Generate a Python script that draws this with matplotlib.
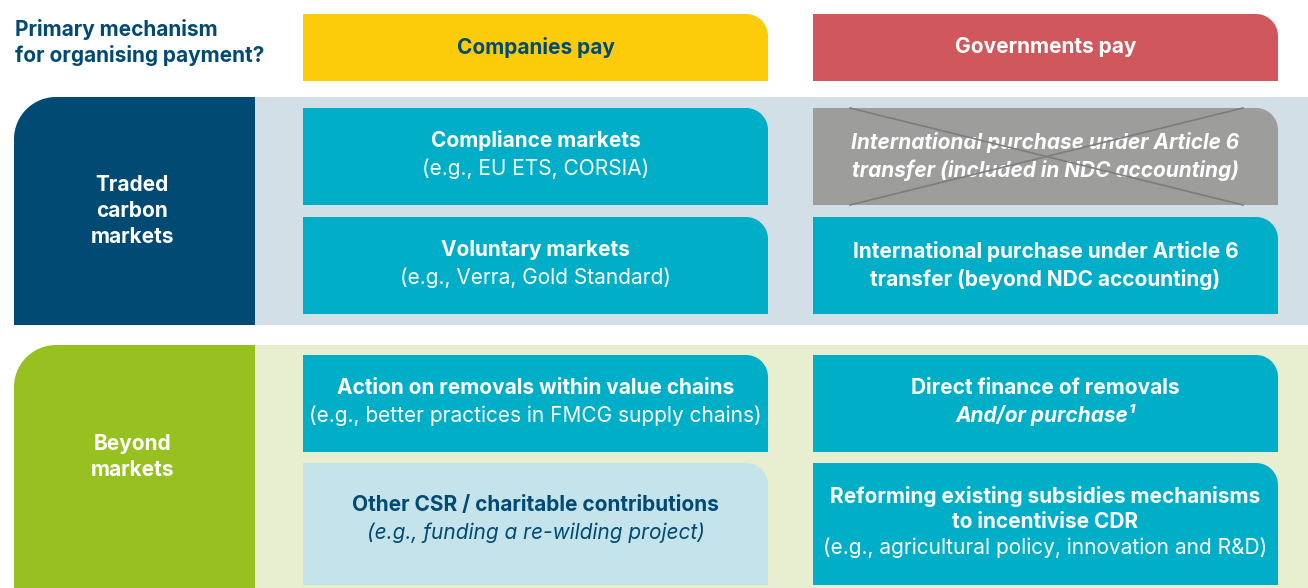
import numpy as np
import matplotlib
matplotlib.use("Agg")
import matplotlib.pyplot as plt
from matplotlib.patches import Polygon, Rectangle

plt.rcParams['font.family'] = ['Inter', 'DejaVu Sans']

# Colours
navy = '#004a73'
teal = '#00aec7'
pale_blue = '#c5e3eb'
grey = '#9d9d9c'
yellow = '#fccc0a'
red = '#d0575c'
green = '#97c121'
band_blue = '#d3dfe7'
band_green = '#e8efd1'

# Texts
question = ["Primary mechanism", "for organising payment?"]
headers = ["Companies pay", "Governments pay"]
rows = [["Traded", "carbon", "markets"], ["Beyond", "markets"]]
box_titles = [
    [["Compliance markets"], ["International purchase under Article 6", "transfer (included in NDC accounting)"]],
    [["Voluntary markets"], ["International purchase under Article 6", "transfer (beyond NDC accounting)"]],
    [["Action on removals within value chains"], ["Direct finance of removals"]],
    [["Other CSR / charitable contributions"], ["Reforming existing subsidies mechanisms", "to incentivise CDR"]],
]
box_notes = [
    ["(e.g., EU ETS, CORSIA)", None],
    ["(e.g., Verra, Gold Standard)", None],
    ["(e.g., better practices in FMCG supply chains)", "And/or purchase\u00b9"],
    ["(e.g., funding a re-wilding project)", "(e.g., agricultural policy, innovation and R&D)"],
]

FS = 15
W, H = 1308, 588
fig = plt.figure(figsize=(W / 100, H / 100), dpi=100)
ax = fig.add_axes([0, 0, 1, 1])
ax.set_xlim(0, W)
ax.set_ylim(H, 0)
ax.axis('off')


def rounded(x0, y0, x1, y1, r, corner, color, z=2):
    # rectangle with a single rounded corner ('tr' or 'tl'), y axis points down
    t = np.linspace(0, np.pi / 2, 20)
    if corner == 'tr':
        cx, cy = x1 - r, y0 + r
        arc = np.column_stack([cx + r * np.sin(t), cy - r * np.cos(t)])
        pts = np.vstack([[x0, y1], [x0, y0], arc, [x1, y1]])
    else:
        cx, cy = x0 + r, y0 + r
        arc = np.column_stack([cx - r * np.cos(t), cy - r * np.sin(t)])
        pts = np.vstack([[x1, y1], [x0, y1], arc, [x1, y0]])
    ax.add_patch(Polygon(pts, closed=True, facecolor=color, edgecolor='none', zorder=z))


def stack(x, yc, lines, step, ha='center', **kw):
    # place each line at a fixed pixel step around yc
    n = len(lines)
    for k, (s, style) in enumerate(lines):
        y = yc + (k - (n - 1) / 2) * step
        ax.text(x, y, s, ha=ha, va='center_baseline', fontsize=FS, zorder=3, **style, **kw)


bold = dict(fontweight='bold')
plain = dict(fontweight='normal')

# question
stack(15, 41, [(s, bold) for s in question], 26, ha='left', color=navy)

# column headers
cols = [(303, 768), (813, 1278)]
for (x0, x1), label, col, tc in zip(cols, headers, [yellow, red], [navy, 'white']):
    rounded(x0, 14, x1, 81, 22, 'tr', col)
    stack((x0 + x1) / 2, 45, [(label, bold)], 26, color=tc)

# row bands
bands = [(97, 325, band_blue, navy, 209), (345, 588, band_green, green, 455)]
for (y0, y1, bg, col, yc), label in zip(bands, rows):
    ax.add_patch(Rectangle((255, y0), W - 255, y1 - y0, facecolor=bg, edgecolor='none', zorder=1))
    rounded(14, y0, 255, y1, 42, 'tl', col)
    stack(132, yc, [(s, bold) for s in label], 26, color='white')

# boxes
box_rows = [(108, 205), (217, 314), (355, 452), (463, 585)]
for i, (y0, y1) in enumerate(box_rows):
    for j, (x0, x1) in enumerate(cols):
        title = box_titles[i][j]
        note = box_notes[i][j]
        face, tc = teal, 'white'
        crossed = (i == 0 and j == 1)
        if crossed:
            face = grey
        if i == 3 and j == 0:
            face, tc = pale_blue, navy
        rounded(x0, y0, x1, y1, 22, 'tr', face)
        cx = (x0 + x1) / 2
        if crossed or (i == 1 and j == 1):
            style = dict(fontweight='bold', style='italic') if crossed else bold
            stack(cx, (y0 + y1) / 2 - 2, [(s, style) for s in title], 28, color='white')
            if crossed:
                ax.plot([850, 1243], [y0, y1], color='#7d7d7d', lw=1.2, zorder=4)
                ax.plot([850, 1243], [y1, y0], color='#7d7d7d', lw=1.2, zorder=4)
            continue
        lines = [(s, bold) for s in title]
        if i == 2 and j == 1:
            lines.append((note, dict(fontweight='bold', style='italic')))
        elif i == 3 and j == 0:
            lines.append((note, dict(fontweight='normal', style='italic')))
        else:
            lines.append((note, plain))
        step = 25.5 if len(lines) == 3 else 28
        shift = -7 if (i == 3 and j == 0) else -4
        stack(cx, (y0 + y1) / 2 + shift, lines, step, color=tc)

fig.savefig('out.png', dpi=100)
